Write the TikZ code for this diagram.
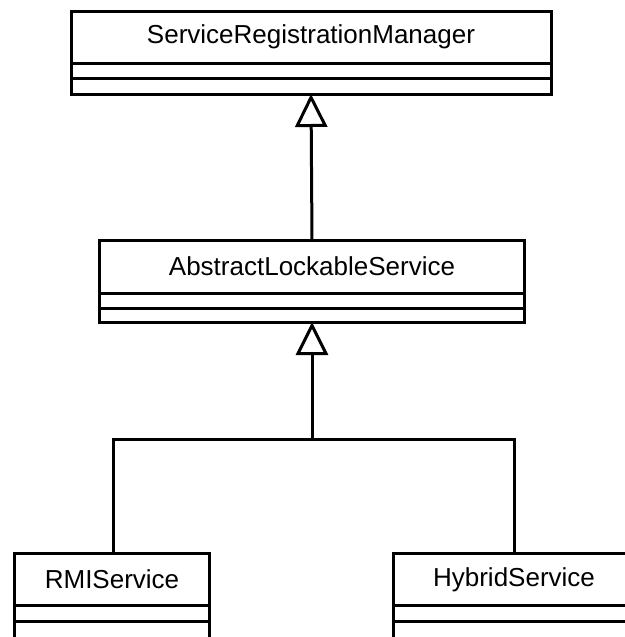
\documentclass[tikz,border=0pt]{standalone}
\usepackage{fontspec}
\setmainfont{Liberation Sans}
\usetikzlibrary{arrows.meta}

\tikzset{
  umltitle/.style={draw, line width=3pt, inner sep=0pt, outer sep=0pt,
    minimum height=52pt, font=\fontsize{26}{30}\selectfont},
  umlcomp/.style={draw, line width=3pt, inner sep=0pt, outer sep=0pt,
    minimum height=15.5pt, anchor=north},
  assoc/.style={line width=3pt},
  inherit/.style={line width=3pt, -{Triangle[open, length=33pt, width=32pt]}}
}

\begin{document}
\begin{tikzpicture}[x=1pt, y=-1pt]
  \useasboundingbox (0,0) rectangle (624,637);

  % ServiceRegistrationManager
  \node[umltitle, minimum width=480pt] (srm) at (311,37) {ServiceRegistrationManager};
  \node[umlcomp, minimum width=480pt] (srmA) at (srm.south) {};
  \node[umlcomp, minimum width=480pt] (srmB) at (srmA.south) {};

  % AbstractLockableService
  \node[umltitle, minimum width=425pt, minimum height=53pt] (als) at (312,266.5) {AbstractLockableService};
  \node[umlcomp, minimum width=425pt, minimum height=15pt] (alsA) at (als.south) {};
  \node[umlcomp, minimum width=425pt, minimum height=14pt] (alsB) at (alsA.south) {};

  % RMIService
  \node[umltitle, minimum width=195pt] (rmi) at (112,579.5) {RMIService};
  \node[umlcomp, minimum width=195pt] (rmiA) at (rmi.south) {};
  \node[umlcomp, minimum width=195pt, minimum height=19pt] (rmiB) at (rmiA.south) {};

  % HybridService
  \node[umltitle, minimum width=241pt] (hyb) at (514,579.5) {HybridService};
  \node[umlcomp, minimum width=241pt] (hybA) at (hyb.south) {};
  \node[umlcomp, minimum width=241pt, minimum height=19pt] (hybB) at (hybA.south) {};

  % generalisations
  \draw[inherit] (als.north) -- (srmB.south);

  \coordinate (join) at (312,439);
  \draw[assoc] (rmi.north -| 113,0) |- (join) -| (hyb.north);
  \draw[inherit] (join) -- (alsB.south);
\end{tikzpicture}
\end{document}
